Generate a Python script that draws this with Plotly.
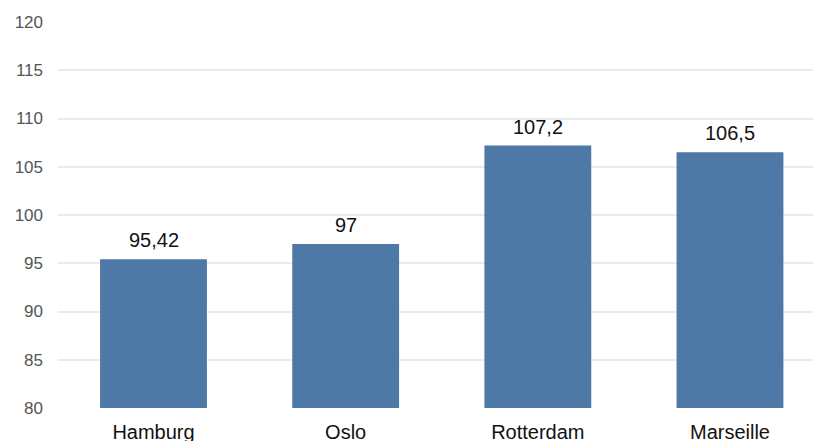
import plotly.graph_objects as go

categories = ["Hamburg", "Oslo", "Rotterdam", "Marseille"]
values = [95.42, 97, 107.2, 106.5]
y_ticks = [80, 85, 90, 95, 100, 105, 110, 115, 120]

labels = [f"{v:g}".replace(".", ",") for v in values]

FONT = "Liberation Sans, Arial, sans-serif"

fig = go.Figure(go.Bar(
    x=categories, y=values,
    marker=dict(color="#4e78a6", line=dict(width=0)),
    cliponaxis=False, width=0.556,
))

for c, v, t in zip(categories, values, labels):
    fig.add_annotation(x=c, y=v, text=t, showarrow=False, yanchor="bottom",
                       yshift=6, font=dict(size=20, color="#111111", family=FONT))

fig.update_layout(
    width=813, height=441,
    margin=dict(l=58, r=0, t=22, b=33, autoexpand=False),
    plot_bgcolor="white", paper_bgcolor="white",
    showlegend=False,
    font=dict(family=FONT),
    xaxis=dict(range=[-0.497, 3.432], showgrid=False, showline=False, zeroline=False,
               automargin=False,
               tickfont=dict(size=20, color="#111111"), ticklabelstandoff=10),
    yaxis=dict(range=[80, 120], tickvals=y_ticks, showgrid=True, gridcolor="#ebebeb",
               gridwidth=1.5, zeroline=False, showline=False, automargin=False,
               tickfont=dict(size=17, color="#555555"), ticklabelstandoff=14),
)

fig.write_html("out.html")
